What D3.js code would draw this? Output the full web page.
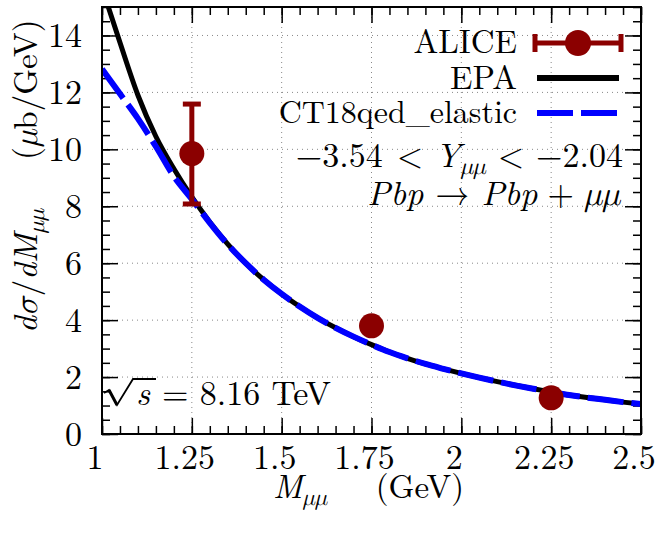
<!DOCTYPE html>
<html>
<head>
<meta charset="UTF-8">
<script src="https://d3js.org/d3.v7.min.js"></script>
<style>
  body { margin: 0; background: #fff; }
</style>
</head>
<body>
<div id="chart"></div>
<script>
// ALICE data points
const aliceM = [1.25, 1.75, 2.25];
const aliceY = [9.85, 3.8, 1.27];
const aliceLow = [8.08, 3.65, 1.15];
const aliceHigh = [11.59, 3.95, 1.4];

// CT18qed_elastic curve
const ct18M = [1.00, 1.05, 1.10, 1.15, 1.20, 1.25, 1.30, 1.35, 1.40, 1.45, 1.50, 1.55, 1.60, 1.65, 1.70,
               1.75, 1.80, 1.85, 1.90, 1.95, 2.00, 2.05, 2.10, 2.15, 2.20, 2.25, 2.30, 2.35, 2.40, 2.45, 2.50];
const ct18Y = [12.82, 11.95, 11.08, 10.1, 9.05, 8.25, 7.42, 6.66, 6.0, 5.42, 4.92, 4.48, 4.08, 3.73, 3.42,
               3.14, 2.88, 2.66, 2.46, 2.29, 2.13, 1.98, 1.84, 1.71, 1.59, 1.48, 1.37, 1.28, 1.20, 1.12, 1.05];

// EPA curve
const epaM = [1.015, 1.05, 1.10, 1.15, 1.20, 1.25, 1.30, 1.35, 1.40, 1.45, 1.50, 1.55, 1.60, 1.65, 1.70,
              1.75, 1.80, 1.85, 1.90, 1.95, 2.00, 2.05, 2.10, 2.15, 2.20, 2.25, 2.30, 2.35, 2.40, 2.45, 2.50];
const epaY = [15.1, 13.75, 11.9, 10.45, 9.32, 8.33, 7.45, 6.67, 6.0, 5.42, 4.92, 4.48, 4.08, 3.73, 3.42,
              3.14, 2.88, 2.66, 2.46, 2.29, 2.13, 1.98, 1.84, 1.71, 1.59, 1.48, 1.37, 1.28, 1.20, 1.12, 1.05];

const xTicks = [1, 1.25, 1.5, 1.75, 2, 2.25, 2.5];
const xTickLabels = ["1", "1.25", "1.5", "1.75", "2", "2.25", "2.5"];
const yTicks = [0, 2, 4, 6, 8, 10, 12, 14];
const yTickLabels = ["0", "2", "4", "6", "8", "10", "12", "14"];

const W = 662, H = 550;
const margin = { top: 7, left: 102, right: 21, bottom: 116 };
const width = W - margin.left - margin.right;
const height = H - margin.top - margin.bottom;
const FS = 34;
const FONT = "\"Latin Modern Roman\", \"Latin Modern Math\", \"Liberation Serif\", serif";

const svg = d3.select("#chart").append("svg")
  .attr("width", W).attr("height", H);

function txt(parent, xx, yy, s, anchor, fs) {
  return parent.append("text").attr("x", xx).attr("y", yy)
    .attr("font-family", FONT).attr("font-size", fs || FS)
    .attr("text-anchor", anchor || "start").attr("fill", "#000").text(s);
}

const g = svg.append("g").attr("transform", `translate(${margin.left},${margin.top})`);

const x = d3.scaleLinear().domain([1, 2.5]).range([0, width]);
const y = d3.scaleLinear().domain([0, 15]).range([height, 0]);

// grid
g.append("g").selectAll("line").data(xTicks.slice(1, -1)).join("line")
  .attr("x1", d => x(d)).attr("x2", d => x(d)).attr("y1", 0).attr("y2", height)
  .attr("stroke", "#888").attr("stroke-width", 1).attr("stroke-dasharray", "1,4");
g.append("g").selectAll("line").data(yTicks.slice(1)).join("line")
  .attr("y1", d => y(d)).attr("y2", d => y(d)).attr("x1", 0).attr("x2", width)
  .attr("stroke", "#888").attr("stroke-width", 1).attr("stroke-dasharray", "1,4");

// ticks on all four sides, pointing inwards
const xMinor = d3.range(1, 2.5001, 0.05);
const yMinor = d3.range(0, 15.001, 0.5);
function ticks(axisFn, scale, vals, size, tr) {
  const a = g.append("g").attr("transform", tr)
    .call(axisFn(scale).tickValues(vals).tickSize(-size).tickFormat(""));
  a.select(".domain").remove();
  a.selectAll("line").attr("stroke", "#000").attr("stroke-width", 1.5);
}
ticks(d3.axisBottom, x, xMinor, 8, `translate(0,${height})`);
ticks(d3.axisBottom, x, xTicks, 16, `translate(0,${height})`);
ticks(d3.axisTop, x, xMinor, 8, "translate(0,0)");
ticks(d3.axisTop, x, xTicks, 16, "translate(0,0)");
ticks(d3.axisLeft, y, yMinor, 8, "translate(0,0)");
ticks(d3.axisLeft, y, yTicks, 16, "translate(0,0)");
ticks(d3.axisRight, y, yMinor, 8, `translate(${width},0)`);
ticks(d3.axisRight, y, yTicks, 16, `translate(${width},0)`);

// tick labels
xTicks.forEach((d, i) => txt(g, x(d) - 7, height + 35, xTickLabels[i], "middle"));
yTicks.forEach((d, i) => txt(g, -20, y(d) + 12, yTickLabels[i], "end"));

// curves
svg.append("clipPath").attr("id", "clip").append("rect")
  .attr("width", width).attr("height", height);
const curves = g.append("g").attr("clip-path", "url(#clip)");
const line = d3.line().x(d => x(d[0])).y(d => y(d[1])).curve(d3.curveMonotoneX);

curves.append("path").datum(d3.zip(epaM, epaY))
  .attr("d", line).attr("fill", "none").attr("stroke", "#000").attr("stroke-width", 5);
curves.append("path").datum(d3.zip(ct18M, ct18Y))
  .attr("d", line).attr("fill", "none").attr("stroke", "#0000ff").attr("stroke-width", 6)
  .attr("stroke-dasharray", "36,8");

// ALICE points
const red = "#8b0000";
const pts = g.append("g");
aliceM.forEach((m, i) => {
  const cx = x(m);
  pts.append("line").attr("x1", cx).attr("x2", cx)
    .attr("y1", y(aliceLow[i])).attr("y2", y(aliceHigh[i]))
    .attr("stroke", red).attr("stroke-width", 5);
  [aliceLow[i], aliceHigh[i]].forEach(v => {
    pts.append("line").attr("x1", cx - 9).attr("x2", cx + 9)
      .attr("y1", y(v)).attr("y2", y(v)).attr("stroke", red).attr("stroke-width", 5);
  });
  pts.append("circle").attr("cx", cx).attr("cy", y(aliceY[i])).attr("r", 12.5).attr("fill", red);
});

// frame
g.append("rect").attr("width", width).attr("height", height)
  .attr("fill", "none").attr("stroke", "#000").attr("stroke-width", 2);

// mixed text helper: parts = [text, italic, subscript, back-up, dx]
function rich(parent, xx, yy, anchor, parts, fs) {
  const t = txt(parent, xx, yy, null, anchor, fs);
  parts.forEach(p => {
    const s = t.append("tspan").text(p[0]);
    if (p[1]) s.attr("font-style", "italic");
    if (p[2]) s.attr("font-size", fs * 0.7).attr("dy", 7);
    if (p[3]) s.attr("dy", -7);
    if (p[4]) s.attr("dx", p[4]);
  });
  return t;
}

// legend
txt(svg, 517, 53, "ALICE", "end", 33);
txt(svg, 517, 89, "EPA", "end", 33);
txt(svg, 517, 123, "CT18qed_elastic", "end", 32);

svg.append("line").attr("x1", 535).attr("x2", 621).attr("y1", 43).attr("y2", 43)
  .attr("stroke", red).attr("stroke-width", 5);
[535, 621].forEach(xx => svg.append("line").attr("x1", xx).attr("x2", xx)
  .attr("y1", 34).attr("y2", 52).attr("stroke", red).attr("stroke-width", 5));
svg.append("circle").attr("cx", 578).attr("cy", 43).attr("r", 13).attr("fill", red);
svg.append("line").attr("x1", 537).attr("x2", 619).attr("y1", 78).attr("y2", 78)
  .attr("stroke", "#000").attr("stroke-width", 6);
svg.append("line").attr("x1", 537).attr("x2", 619).attr("y1", 113).attr("y2", 113)
  .attr("stroke", "#0000ff").attr("stroke-width", 6).attr("stroke-dasharray", "36,8");

// annotations
rich(svg, 623, 167, "end", [
  ["\u22123.54"], ["<", false, false, false, 14], ["Y", true, false, false, 12],
  ["\u03bc\u03bc", true, true], ["<", false, false, true, 12], ["\u22122.04", false, false, false, 12]], 34);
rich(svg, 620, 205, "end", [
  ["Pbp", true], ["\u2192", false, false, false, 12], ["Pbp", true, false, false, 12],
  ["+", false, false, false, 10], ["\u03bc\u03bc", true, false, false, 10]], 34);

// sqrt(s) = 8.16 TeV
svg.append("path").attr("d", "M104,393 L109,390 L117,405 L133,379 L156,379")
  .attr("fill", "none").attr("stroke", "#000").attr("stroke-width", 1.8)
  .attr("stroke-linejoin", "miter");
svg.append("path").attr("d", "M109,390 L117,405")
  .attr("stroke", "#000").attr("stroke-width", 3);
txt(svg, 136, 405, "s", "start", 34).attr("font-style", "italic");
txt(svg, 162, 405, "= 8.16 TeV", "start", 34);

// axis titles
rich(svg, 273, 498, "start", [["M", true], ["\u03bc\u03bc", true, true]], 33);
txt(svg, 464, 498, "(GeV)", "end", 33);

const yt = svg.append("g").attr("transform", "translate(37,0) rotate(-90)");
rich(yt, -333, 0, "start", [["d\u03c3", true], ["/"], ["dM", true], ["\u03bc\u03bc", true, true]], 33);
rich(yt, -160, 0, "start", [["("], ["\u03bc", true], ["b/GeV)"]], 33);
</script>
</body>
</html>
